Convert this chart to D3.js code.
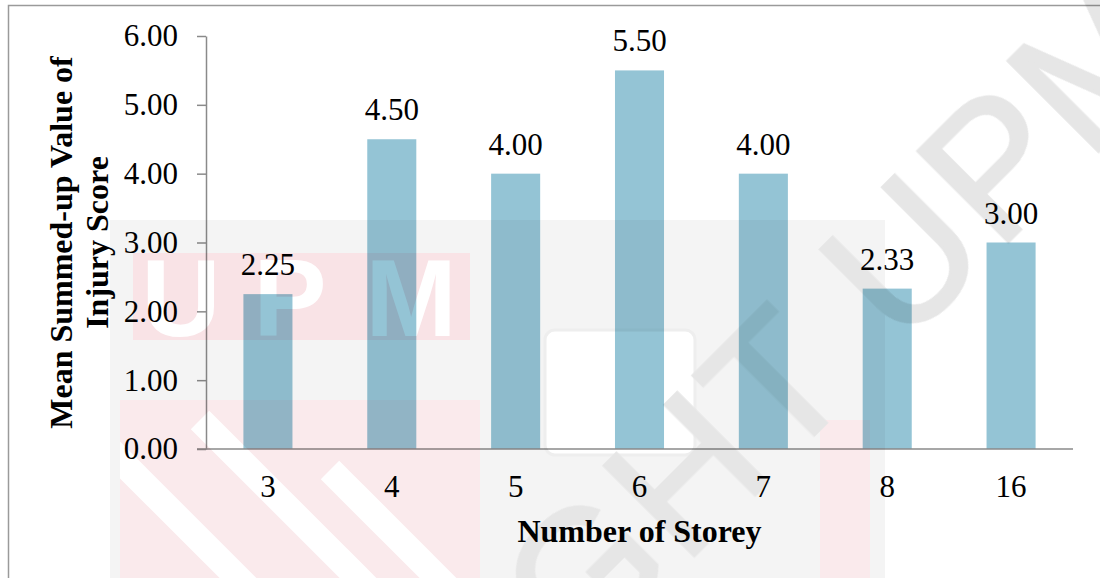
<!DOCTYPE html>
<html><head><meta charset="utf-8">
<script src="https://cdn.jsdelivr.net/npm/d3@7"></script>
<style>body{margin:0;background:#fff}svg{display:block}</style>
</head><body><svg id="c" width="1100" height="578"></svg>
<script>
const categories = ["3","4","5","6","7","8","16"];
const values = [2.25, 4.50, 4.00, 5.50, 4.00, 2.33, 3.00];
const yTicks = [0, 1, 2, 3, 4, 5, 6];
const xTitle = "Number of Storey";
const yTitleLines = ["Mean Summed-up Value of", "Injury Score"];
const watermarkText = "COPYRIGHT UPM";
const logoLetters = ["U", "P", "M"];

const svg = d3.select("#c");
const m = {left: 206, right: 1073, top: 36, bottom: 449};
const x = d3.scaleBand().domain(categories).range([m.left, m.right]).paddingInner(0.604).paddingOuter(0.302);
const y = d3.scaleLinear().domain([0, 6]).range([m.bottom, m.top]);
const serif = "'Liberation Serif','Times New Roman',serif";
const sans = "'Liberation Sans',Arial,sans-serif";
const axisColor = "#8a8a8a";

// outer frame
svg.append("rect").attr("x", 8.5).attr("y", 5.5).attr("width", 1200).attr("height", 700)
  .attr("fill", "none").attr("stroke", "#9a9a9a").attr("stroke-width", 1.5);

// bars
svg.append("g").selectAll("rect").data(values).join("rect")
  .attr("x", (d, i) => x(categories[i]))
  .attr("y", d => y(d))
  .attr("width", x.bandwidth())
  .attr("height", d => y(0) - y(d))
  .attr("fill", "#94c4d5");

// y axis
const ya = svg.append("g").attr("transform", `translate(${m.left},0)`)
  .call(d3.axisLeft(y).tickValues(yTicks).tickFormat(d3.format(".2f")).tickSize(9).tickSizeOuter(0).tickPadding(19));
ya.select(".domain").attr("stroke", axisColor).attr("stroke-width", 1.5);
ya.selectAll(".tick line").attr("stroke", axisColor).attr("stroke-width", 1.5);
ya.selectAll(".tick text").attr("font-family", serif).attr("font-size", 31).attr("fill", "#000");

// x axis
const xa = svg.append("g").attr("transform", `translate(0,${y(0)})`)
  .call(d3.axisBottom(x).tickSize(0).tickPadding(26));
xa.select(".domain").remove();
xa.selectAll(".tick text").attr("font-family", serif).attr("font-size", 31).attr("fill", "#000");
svg.append("line").attr("x1", m.left - 9).attr("x2", m.right).attr("y1", y(0)).attr("y2", y(0))
  .attr("stroke", axisColor).attr("stroke-width", 1.5);

// value labels
svg.append("g").selectAll("text").data(values).join("text")
  .attr("x", (d, i) => x(categories[i]) + x.bandwidth() / 2)
  .attr("y", d => y(d) - 19)
  .attr("text-anchor", "middle")
  .attr("font-family", serif).attr("font-size", 31).attr("fill", "#000")
  .text(d => d3.format(".2f")(d));

// axis titles
svg.append("text").attr("x", (m.left + m.right) / 2).attr("y", 542).attr("text-anchor", "middle")
  .attr("font-family", serif).attr("font-size", 32).attr("font-weight", "bold").text(xTitle);
const yt = svg.append("text").attr("transform", `translate(72,${(m.top + m.bottom) / 2}) rotate(-90)`)
  .attr("text-anchor", "middle").attr("font-family", serif).attr("font-size", 32).attr("font-weight", "bold");
yTitleLines.forEach((t, i) => yt.append("tspan").attr("x", 0).attr("dy", i === 0 ? 0 : 36).text(t));

// faint watermark (multiplied over the chart)
const wm = svg.append("g").style("mix-blend-mode", "multiply");
wm.append("rect").attr("x", 110).attr("y", 220).attr("width", 775).attr("height", 358).attr("fill", "#f4f4f4");
const defs = svg.append("defs");
defs.append("clipPath").attr("id", "shield").append("rect").attr("x", 120).attr("y", 400).attr("width", 360).attr("height", 178);
const sh = wm.append("g").attr("clip-path", "url(#shield)");
sh.append("rect").attr("x", 120).attr("y", 400).attr("width", 360).attr("height", 178).attr("fill", "#faeaec");
[[80, 420], [200, 420], [330, 470]].forEach(p => {
  sh.append("line").attr("x1", p[0]).attr("y1", p[1]).attr("x2", p[0] + 200).attr("y2", p[1] + 200)
    .attr("stroke", "#ffffff").attr("stroke-width", 26);
});
wm.append("rect").attr("x", 820).attr("y", 420).attr("width", 50).attr("height", 158).attr("fill", "#faeaec");
wm.append("rect").attr("x", 133).attr("y", 253).attr("width", 337).attr("height", 87).attr("fill", "#f9e3e6");
wm.append("g").selectAll("text").data(logoLetters).join("text")
  .attr("x", (d, i) => [181, 290, 411][i]).attr("y", 336).attr("text-anchor", "middle")
  .attr("font-family", sans).attr("font-weight", "bold").attr("font-size", 110)
  .attr("fill", "#ffffff").text(d => d);
wm.append("rect").attr("x", 545).attr("y", 330).attr("width", 150).attr("height", 125).attr("rx", 10)
  .attr("fill", "#ffffff").attr("stroke", "#eeeeee").attr("stroke-width", 3);
wm.append("text").attr("transform", "translate(630,620) rotate(-45)").attr("text-anchor", "middle")
  .attr("font-family", sans).attr("font-size", 185).attr("letter-spacing", 4)
  .attr("fill", "#e6e6e6").attr("stroke", "#e6e6e6").attr("stroke-width", 3).text(watermarkText);
</script></body></html>
